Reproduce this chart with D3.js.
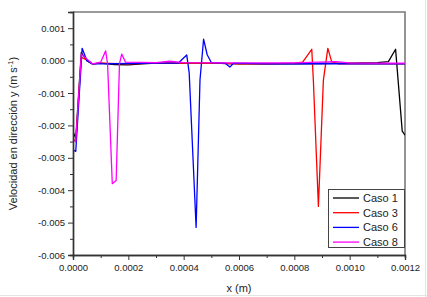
<!DOCTYPE html>
<html>
<head>
<meta charset="utf-8">
<script src="https://cdn.jsdelivr.net/npm/d3@7"></script>
<style>
  body { margin: 0; background: #fff; }
  svg { display: block; font-family: Arial, "Liberation Sans", sans-serif; }
</style>
</head>
<body>
<svg id="chart" width="427" height="297"></svg>
<script>
// series data
const caso1X = [0, 0.00001, 0.00003, 0.00005, 0.00007, 0.0001, 0.00015, 0.0002, 0.00025, 0.0003, 0.0004, 0.0005, 0.0006, 0.0007, 0.0008, 0.0009, 0.001, 0.0011, 0.00114, 0.001166, 0.00119, 0.0012];
const caso1Y = [-0.0022, -0.0024, 0.00025, 0.0, -0.0001, -0.00008, -0.00012, -0.00013, -0.0001, -0.00008, -0.00008, -0.00008, -0.0001, -0.0001, -0.0001, -0.00009, -0.00008, -0.00006, -0.00003, 0.00035, -0.00218, -0.0023];

const caso3X = [0, 0.00001, 0.00003, 0.00005, 0.00007, 0.0001, 0.0002, 0.0003, 0.0004, 0.0005, 0.0006, 0.0007, 0.0008, 0.00083, 0.000863, 0.000869, 0.000887, 0.000905, 0.000921, 0.000935, 0.00096, 0.001, 0.0011, 0.0012];
const caso3Y = [-0.0024, -0.0025, 0.0001, 0.00002, -0.0001, -0.00008, -0.0001, -0.00008, -0.00008, -0.00008, -0.0001, -0.0001, -0.00008, -0.00005, 0.00035, -0.00065, -0.0045, -0.0006, 0.00038, -0.00003, -0.0001, -0.00009, -0.0001, -0.0001];

const caso6X = [0, 0.00001, 0.000033, 0.00005, 0.00007, 0.0001, 0.0002, 0.0003, 0.00038, 0.000411, 0.00042, 0.000445, 0.000459, 0.000472, 0.000485, 0.0005, 0.00055, 0.000567, 0.00058, 0.0007, 0.0008, 0.0009, 0.001, 0.0011, 0.0012];
const caso6Y = [-0.00275, -0.0028, 0.00038, 0.0, -0.0001, -0.0001, -0.00009, -0.00008, -0.00008, 0.000175, -0.00038, -0.00515, -0.0006, 0.00066, 0.00018, -0.00006, -0.00008, -0.0002, -0.00008, -0.0001, -0.0001, -0.00009, -0.0001, -0.0001, -0.0001];

const caso8X = [0, 0.00001, 0.00003, 0.00005, 0.00007, 0.0001, 0.000118, 0.000125, 0.000142, 0.000156, 0.000168, 0.000176, 0.00019, 0.0003, 0.00035, 0.0004, 0.0006, 0.0008, 0.00095, 0.001, 0.0011, 0.0012];
const caso8Y = [-0.00245, -0.0025, 0.0002, 0.00005, -0.0001, -0.00005, 0.0003, -0.0001, -0.0038, -0.0037, -0.0001, 0.0002, -0.00005, -0.00006, -0.00002, -0.00006, -0.00007, -0.00007, -0.00003, -0.00007, -0.00008, -0.00008];

const seriesNames = ["Caso 1", "Caso 3", "Caso 6", "Caso 8"];
const seriesColors = ["#000000", "#ff0000", "#0000ff", "#ff00ff"];
const xTicks = [0, 0.0002, 0.0004, 0.0006, 0.0008, 0.001, 0.0012];
const yTicks = [0.001, 0, -0.001, -0.002, -0.003, -0.004, -0.005, -0.006];

const series = [
    { name: seriesNames[0], color: seriesColors[0], pts: caso1X.map((x, i) => [x, caso1Y[i]]) },
    { name: seriesNames[1], color: seriesColors[1], pts: caso3X.map((x, i) => [x, caso3Y[i]]) },
    { name: seriesNames[2], color: seriesColors[2], pts: caso6X.map((x, i) => [x, caso6Y[i]]) },
    { name: seriesNames[3], color: seriesColors[3], pts: caso8X.map((x, i) => [x, caso8Y[i]]) }
];

const svg = d3.select("#chart");
const plotL = 73, plotR = 405, plotT = 12, plotB = 255;

// scales
const xScale = d3.scaleLinear().domain([0, 0.0012]).range([plotL, plotR]);
const yScale = d3.scaleLinear().domain([-0.006, 0.0015]).range([plotB, plotT]);

svg.append("rect").attr("width", 427).attr("height", 297).attr("fill", "#fff");
// light page edge
svg.append("line").attr("x1", 425.5).attr("x2", 425.5).attr("y1", 0).attr("y2", 297).attr("stroke", "#e4e4e4");
svg.append("line").attr("x1", 0).attr("x2", 427).attr("y1", 295.5).attr("y2", 295.5).attr("stroke", "#e4e4e4");

// frame top and right
svg.append("path")
    .attr("d", `M${plotL},${plotT}H${plotR}V${plotB}`)
    .attr("fill", "none")
    .attr("stroke", "#7a7a7a")
    .attr("stroke-width", 1.6);

// clip
svg.append("clipPath").attr("id", "clip")
    .append("rect").attr("x", plotL).attr("y", plotT).attr("width", plotR - plotL).attr("height", plotB - plotT);

const line = d3.line().x(d => xScale(d[0])).y(d => yScale(d[1]));

svg.append("g").attr("clip-path", "url(#clip)")
    .selectAll("path")
    .data(series)
    .join("path")
    .attr("d", d => line(d.pts))
    .attr("fill", "none")
    .attr("stroke", d => d.color)
    .attr("stroke-width", 1.3)
    .attr("stroke-linejoin", "round");

// minor ticks
const xMinor = d3.range(0.0001, 0.0012, 0.0002);
const yMinor = d3.range(-0.0055, 0.0015, 0.001);
const hyphen = f => (d => f(d).replace("\u2212", "-"));

const xAxisGroup = svg.append("g").attr("transform", `translate(0, ${plotB})`);
xAxisGroup.call(d3.axisBottom(xScale).tickValues(xMinor).tickSize(3).tickFormat(""));
xAxisGroup.append("g").call(d3.axisBottom(xScale).tickValues(xTicks).tickSize(5).tickPadding(4).tickFormat(hyphen(d3.format(".4f"))));

const yAxisGroup = svg.append("g").attr("transform", `translate(${plotL}, 0)`);
yAxisGroup.call(d3.axisLeft(yScale).tickValues(yMinor).tickSize(3).tickFormat(""));
yAxisGroup.append("g").call(d3.axisLeft(yScale).tickValues(yTicks).tickSize(5).tickPadding(3).tickFormat(hyphen(d3.format(".3f"))));

svg.selectAll(".domain").attr("stroke", "#333").attr("stroke-width", 1.4);
svg.selectAll(".tick line").attr("stroke", "#333");
svg.selectAll(".tick text").attr("font-size", 9.5).attr("fill", "#222")
    .attr("font-family", "Arial, 'Liberation Sans', sans-serif");

// axis titles
svg.append("text")
    .attr("x", (plotL + plotR) / 2).attr("y", 292)
    .attr("text-anchor", "middle").attr("font-size", 11).attr("fill", "#222")
    .text("x (m)");

const yTitle = svg.append("text")
    .attr("transform", `translate(17, ${(plotT + plotB) / 2}) rotate(-90)`)
    .attr("text-anchor", "middle").attr("font-size", 11).attr("fill", "#222");
yTitle.append("tspan").text("Velocidad en dirección y (m s");
yTitle.append("tspan").attr("dy", -4).attr("font-size", 7.5).text("-1");
yTitle.append("tspan").attr("dy", 4).text(")");

// legend
const legend = svg.append("g").attr("transform", "translate(328, 189)");
legend.append("rect").attr("x", 0.5).attr("y", 0.5).attr("width", 76).attr("height", 58)
    .attr("fill", "#fff").attr("stroke", "#444").attr("stroke-width", 1);
const items = legend.selectAll("g.item").data(series).join("g").attr("class", "item")
    .attr("transform", (d, i) => `translate(0, ${9 + i * 14.7})`);
items.append("line").attr("x1", 5).attr("x2", 31).attr("stroke", d => d.color).attr("stroke-width", 1.3);
items.append("text").attr("x", 35).attr("y", 4).attr("font-size", 11).attr("fill", "#222").text(d => d.name);
</script>
</body>
</html>
